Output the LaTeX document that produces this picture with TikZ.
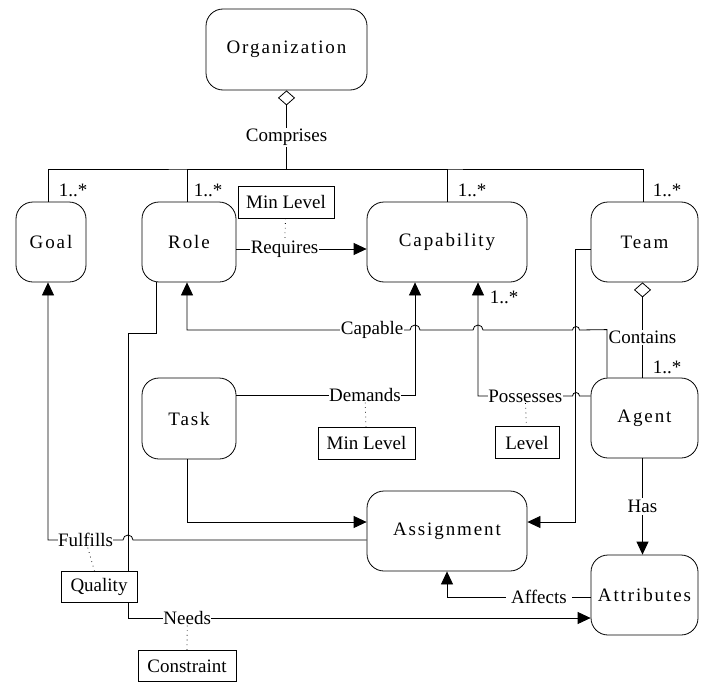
\documentclass[tikz,border=0pt]{standalone}
\usepackage{fontspec}
\setmainfont{Liberation Serif}
\newfontfamily\boxfont[LetterSpace=10]{Liberation Serif}
\usetikzlibrary{arrows.meta}
\begin{document}
\begin{tikzpicture}[x=1pt,y=1pt,
  every node/.style={font=\fontsize{19}{22}\selectfont},
  ent/.style={draw,rounded corners=17pt,inner sep=0pt,font=\boxfont\fontsize{19}{22}\selectfont},
  abox/.style={draw,fill=white,inner sep=0pt,minimum height=32pt},
  lbl/.style={fill=white,inner sep=1pt},
  mult/.style={inner sep=0pt},
  arr/.style={-{Triangle[length=13pt,width=12pt]}},
  agg/.style={{Diamond[open,length=15pt,width=17pt,fill=white]}-},
  dots/.style={dash pattern=on 0.7pt off 4pt},
  line width=0.8pt]
\useasboundingbox (0,0) rectangle (703,-682);

% entities
\node[ent,minimum width=161pt,minimum height=81pt] (org) at (286.5,-49.5) {Organization};
\node[ent,minimum width=70pt,minimum height=80pt] (goal) at (51,-242) {Goal};
\node[ent,minimum width=94pt,minimum height=80pt] (role) at (189,-242) {Role};
\node[ent,minimum width=160pt,minimum height=80pt] (cap) at (447,-242) {Capability};
\node[ent,minimum width=107pt,minimum height=80pt] (team) at (644.5,-242) {Team};
\node[ent,minimum width=94pt,minimum height=81pt] (task) at (189,-418.5) {Task};
\node[ent,minimum width=107pt,minimum height=80pt] (agent) at (644.5,-418) {Agent};
\node[ent,minimum width=160pt,minimum height=80pt] (assign) at (447,-531) {Assignment};
\node[ent,minimum width=107pt,minimum height=80pt] (attr) at (644.5,-595) {Attributes};

% multiplicities
\node[mult] (m1) at (73,-190) {1..*};
\node[mult] (m2) at (208,-190) {1..*};
\node[mult] (m3) at (472,-190) {1..*};
\node[mult] (m4) at (667,-190) {1..*};
\node[mult] (m5) at (504,-297) {1..*};
\node[mult] (m6) at (667,-367) {1..*};

% Comprises + bus
\coordinate (bus) at (286.5,-169);
\draw[agg] (org.south) -- node[lbl,pos=0.6] {Comprises} (bus);
\draw ([xshift=-3pt]goal.north) |- (bus) -| ([xshift=-1.5pt]team.north);
\draw ([xshift=-2pt]role.north) |- (bus);
\draw (cap.north) |- (bus);

% Requires
\draw[arr] ([yshift=-7pt]role.east) -- node[lbl,pos=0.37,inner sep=0.5pt] (req) {Requires} ([yshift=-7pt]cap.west);
\node[abox,minimum width=96pt] (ml1) at (286,-202) {Min Level};
\draw[dots] (ml1) -- (req);

% Team -> Assignment
\draw[arr] ([yshift=-7pt]team.west) -- ++(-15,0) |- ([yshift=9pt]assign.east);

% Capable (with hops)
\draw[arr] ([xshift=-37.5pt]agent.north) -- ++(0,48) -- (579.5,-330)
  arc[start angle=0,end angle=180,radius=3.5pt] -- (483,-330)
  arc[start angle=0,end angle=180,radius=5pt] -- (420,-330)
  arc[start angle=0,end angle=180,radius=5pt]
  -- node[lbl,pos=0.17,inner sep=0.5pt] {Capable} ([xshift=-2pt]role.south |- 0,-330)
  -- ([xshift=-2pt]role.south);

% Demands
\draw[arr] ([yshift=23.5pt]task.east) -| node[lbl,pos=0.36,inner sep=0.5pt] (dem) {Demands} ([xshift=-32pt]cap.south);
\node[abox,minimum width=97pt] (ml2) at (366.5,-443) {Min Level};
\draw[dots] (dem) -- (ml2);

% Possesses
\draw[arr] ([yshift=22pt]agent.west) -- (579.5,-396)
  arc[start angle=0,end angle=180,radius=3.5pt]
  -- node[lbl,pos=0.5,inner sep=0.5pt] (pos) {Possesses} (478,-396)
  -- ([xshift=31pt]cap.south);
\node[abox,minimum width=64pt] (lev) at (527,-442.5) {Level};
\draw[dots] (pos) -- (lev);

% Contains
\draw[agg] ([xshift=-2pt]team.south) -- node[lbl,pos=0.58] {Contains} ([xshift=-2pt]agent.north);

% Task -> Assignment
\draw[arr] ([xshift=-2pt]task.south) |- ([yshift=9pt]assign.west);

% Has
\draw[arr] ([xshift=-2pt]agent.south) -- node[lbl,inner sep=2pt] {Has} ([xshift=-2pt]attr.north);

% Affects
\draw[arr] ([yshift=-2pt]attr.west) -| node[lbl,pos=0.18,inner xsep=5pt] {Affects} (assign.south);

% Role -> Needs -> Attributes
\draw[arr] ([xshift=-33pt]role.south) |- (128,-333) |- node[lbl,pos=0.564,inner sep=0.5pt] (needs) {Needs} ([yshift=-23pt]attr.west);
\node[abox,minimum width=98pt,minimum height=31pt] (con) at (187,-666) {Constraint};
\draw[dots] (needs) -- (con);

% Fulfills
\draw[arr] ([yshift=-9pt]assign.west) -- (133,-540)
  arc[start angle=0,end angle=180,radius=5pt]
  -| node[lbl,pos=0.25,inner sep=0.5pt] (ful) {Fulfills} ([xshift=-3pt]goal.south);
\node[abox,minimum width=76pt,minimum height=31pt] (qual) at (99,-586.5) {Quality};
\draw[dots] (ful) -- (qual);
\end{tikzpicture}
\end{document}
